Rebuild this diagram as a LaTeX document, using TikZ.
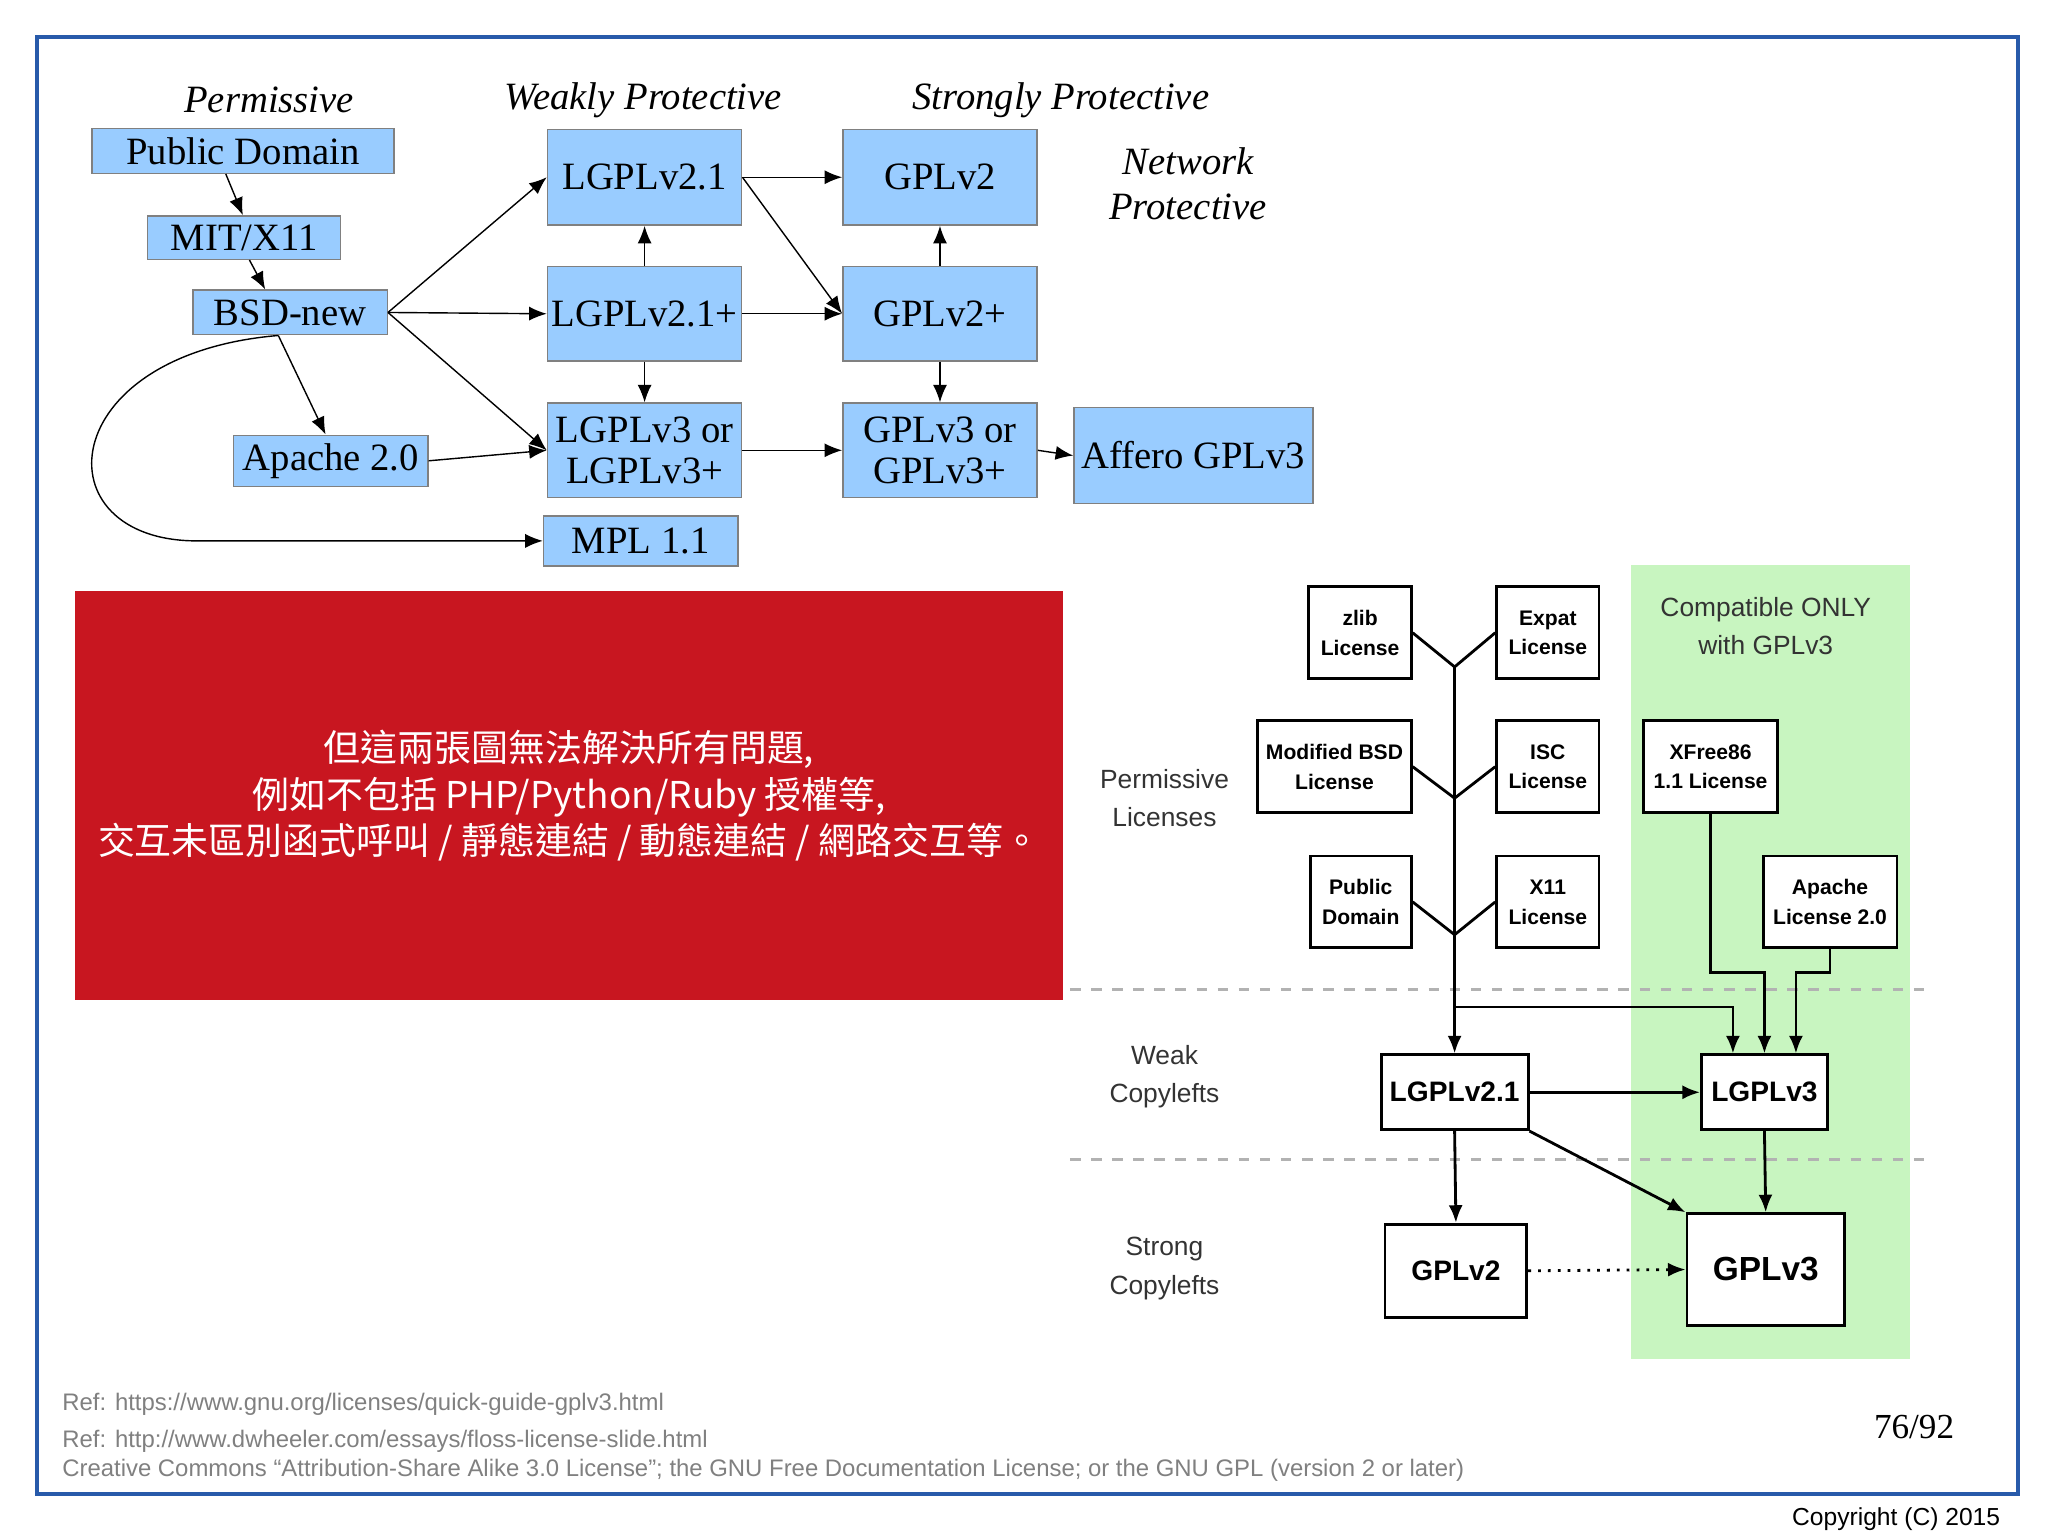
\documentclass[tikz,border=0pt]{standalone}
\usepackage{fontspec}
\setmainfont{Liberation Sans}
\newfontfamily\tms{Liberation Serif}
\newfontfamily\cjk{Noto Sans CJK TC}
\usetikzlibrary{arrows.meta}
\definecolor{boxblue}{RGB}{153,204,255}
\definecolor{slidered}{RGB}{200,22,32}
\definecolor{gplgreen}{RGB}{200,245,192}
\definecolor{frameblue}{RGB}{40,90,170}
\def\u{0.01313cm}
\begin{document}
\begin{tikzpicture}[x=0.01313cm,y=-0.01313cm,
  tip/.style={-{Latex[length=5pt,width=4pt]}},
  blic/.style={draw=gray, fill=boxblue, inner sep=0pt, align=center, font=\tms\fontsize{11}{11.5}\selectfont},
  head/.style={font=\tms\itshape\fontsize{11}{13}\selectfont, align=center},
  rlic/.style={draw=black, thick, fill=white, inner sep=0pt, align=center, font=\bfseries\fontsize{6}{8.5}\selectfont},
  big/.style={rlic, font=\bfseries\fontsize{8}{10}\selectfont},
  side/.style={align=center, font=\fontsize{7.5}{11}\selectfont, text=black!80},
  foot/.style={anchor=west, text=gray, font=\fontsize{6.8}{8}\selectfont}]

\useasboundingbox (0,0) rectangle (1560,1170);
\draw[frameblue, line width=1.2pt] (28,28) rectangle (1537,1138);

% left diagram
\node[head] at (205,76) {Permissive};
\node[head] at (490,76) {Weakly Protective};
\node[head] at (808,76) {Strongly Protective};
\node[head] at (905,140) {Network\\Protective};

\node[blic, minimum width=230*\u, minimum height=34*\u] (pd) at (185,115) {Public Domain};
\node[blic, minimum width=147*\u, minimum height=33*\u] (mit) at (186,181) {MIT/X11};
\node[blic, minimum width=148*\u, minimum height=34*\u] (bsd) at (221,238) {BSD-new};
\node[blic, minimum width=148*\u, minimum height=39*\u] (apache) at (252,351) {Apache 2.0};
\node[blic, minimum width=148*\u, minimum height=73*\u] (lgpl21) at (491,135) {LGPLv2.1};
\node[blic, minimum width=148*\u, minimum height=72*\u] (lgpl21p) at (491,239) {LGPLv2.1+};
\node[blic, minimum width=148*\u, minimum height=72*\u] (lgpl3) at (491,343) {LGPLv3 or\\LGPLv3+};
\node[blic, minimum width=148*\u, minimum height=38*\u] (mpl) at (488,412) {MPL 1.1};
\node[blic, minimum width=148*\u, minimum height=73*\u] (gpl2) at (716,135) {GPLv2};
\node[blic, minimum width=148*\u, minimum height=72*\u] (gpl2p) at (716,239) {GPLv2+};
\node[blic, minimum width=148*\u, minimum height=72*\u] (gpl3) at (716,343) {GPLv3 or\\GPLv3+};
\node[blic, minimum width=182*\u, minimum height=73*\u] (agpl) at (909,347) {Affero GPLv3};

\draw[tip] (pd.south -| 172,0) -- (mit.north -| 185,0);
\draw[tip] (mit.south -| 190,0) -- (bsd.north -| 202,0);
\draw[tip] (bsd.east) -- (lgpl21.west);
\draw[tip] (bsd.east) -- (lgpl21p.west);
\draw[tip] (bsd.east) -- (lgpl3.west);
\draw[tip] (bsd.south -| 212,0) -- (apache.north -| 248,0);
\draw[tip] (apache.east) -- (lgpl3.west);
\draw[tip] (bsd.south -| 212,0) .. controls (40,270) and (30,412) .. (150,412) -- (mpl.west);
\draw[tip] (lgpl21.east) -- (gpl2.west);
\draw[tip] (lgpl21.east) -- (gpl2p.west);
\draw[tip] (lgpl21p.north) -- (lgpl21.south);
\draw[tip] (lgpl21p.east) -- (gpl2p.west);
\draw[tip] (lgpl21p.south) -- (lgpl3.north);
\draw[tip] (gpl2p.north) -- (gpl2.south);
\draw[tip] (gpl2p.south) -- (gpl3.north);
\draw[tip] (lgpl3.east) -- (gpl3.west);
\draw[tip] (gpl3.east) -- (agpl.west);

% red note
\node[fill=slidered, minimum width=753*\u, minimum height=312*\u, inner sep=0pt] (note) at (433.5,606) {};
\node[text=white, align=center, font=\cjk\fontsize{10.5}{13.3}\selectfont] at (note.center) {但這兩張圖無法解決所有問題,\\例如不包括 PHP/Python/Ruby 授權等,\\交互未區別函式呼叫 / 靜態連結 / 動態連結 / 網路交互等。};

% right diagram
\fill[gplgreen] (1242,430) rectangle (1455,1035);
\draw[gray!60, dashed, thick] (815,754) -- (1468,754);
\draw[gray!60, dashed, thick] (815,883) -- (1468,883);
\node[side] at (1345,477) {Compatible ONLY\\with GPLv3};
\node[side] at (887,608) {Permissive\\Licenses};
\node[side] at (887,820) {Weak\\Copylefts};
\node[side] at (887,966) {Strong\\Copylefts};

\node[rlic, minimum width=78*\u, minimum height=70*\u] (zlib) at (1036,482) {zlib\\License};
\node[rlic, minimum width=78*\u, minimum height=70*\u] (expat) at (1179,482) {Expat\\License};
\node[rlic, minimum width=117*\u, minimum height=70*\u] (mbsd) at (1016.5,584) {Modified BSD\\License};
\node[rlic, minimum width=78*\u, minimum height=70*\u] (isc) at (1179,584) {ISC\\License};
\node[rlic, minimum width=77*\u, minimum height=70*\u] (pdom) at (1036.5,687) {Public\\Domain};
\node[rlic, minimum width=78*\u, minimum height=70*\u] (xeleven) at (1179,687) {X11\\License};
\node[rlic, minimum width=102*\u, minimum height=70*\u] (xfree) at (1303,584) {XFree86\\1.1 License};
\node[rlic, minimum width=102*\u, minimum height=70*\u] (apachetwo) at (1394,687) {Apache\\License 2.0};
\node[big, minimum width=112*\u, minimum height=57*\u] (rlgpl21) at (1108,832) {LGPLv2.1};
\node[big, minimum width=96*\u, minimum height=57*\u] (rlgpl3) at (1344,832) {LGPLv3};
\node[big, minimum width=108*\u, minimum height=71*\u] (rgpl2) at (1109,968) {GPLv2};
\node[big, minimum width=120*\u, minimum height=85*\u, font=\bfseries\fontsize{9.5}{11}\selectfont] (rgpl3) at (1345,967) {GPLv3};

\coordinate (j1) at (1108,508);
\coordinate (j2) at (1108,608);
\coordinate (j3) at (1108,712);
\coordinate (k) at (1108,767);
\draw[thick] (zlib.east) -- (j1) -- (expat.west);
\draw[thick] (mbsd.east) -- (j2) -- (isc.west);
\draw[thick] (pdom.east) -- (j3) -- (xeleven.west);
\draw[thick, tip] (j1) -- (rlgpl21.north);
\draw[thick, tip] (k) -| ([xshift=-24*\u]rlgpl3.north);
\draw[thick, tip] (xfree.south) |- (1344,741) -- (rlgpl3.north);
\draw[thick, tip] (apachetwo.south) |- (1368,741) -- ([xshift=24*\u]rlgpl3.north);
\draw[thick, tip] (rlgpl21.east) -- (rlgpl3.west);
\draw[thick, tip] (rlgpl21.south) -- (rgpl2.north);
\draw[thick, tip] (rlgpl21.south east) -- (rgpl3.north west);
\draw[thick, tip] (rlgpl3.south) -- (rgpl3.north);
\draw[thick, dotted, tip] (rgpl2.east) -- (rgpl3.west);

% footer
\node[foot] at (38,1070) {Ref: https://www.gnu.org/licenses/quick-guide-gplv3.html};
\node[foot] at (38,1098) {Ref: http://www.dwheeler.com/essays/floss-license-slide.html};
\node[foot] at (38,1120) {Creative Commons “Attribution-Share Alike 3.0 License”; the GNU Free Documentation License; or the GNU GPL (version 2 or later)};
\node[font=\tms\fontsize{10}{12}\selectfont] at (1458,1087) {76/92};
\node[anchor=east, font=\fontsize{7}{8}\selectfont] at (1533,1157) {Copyright (C) 2015};
\end{tikzpicture}
\end{document}
